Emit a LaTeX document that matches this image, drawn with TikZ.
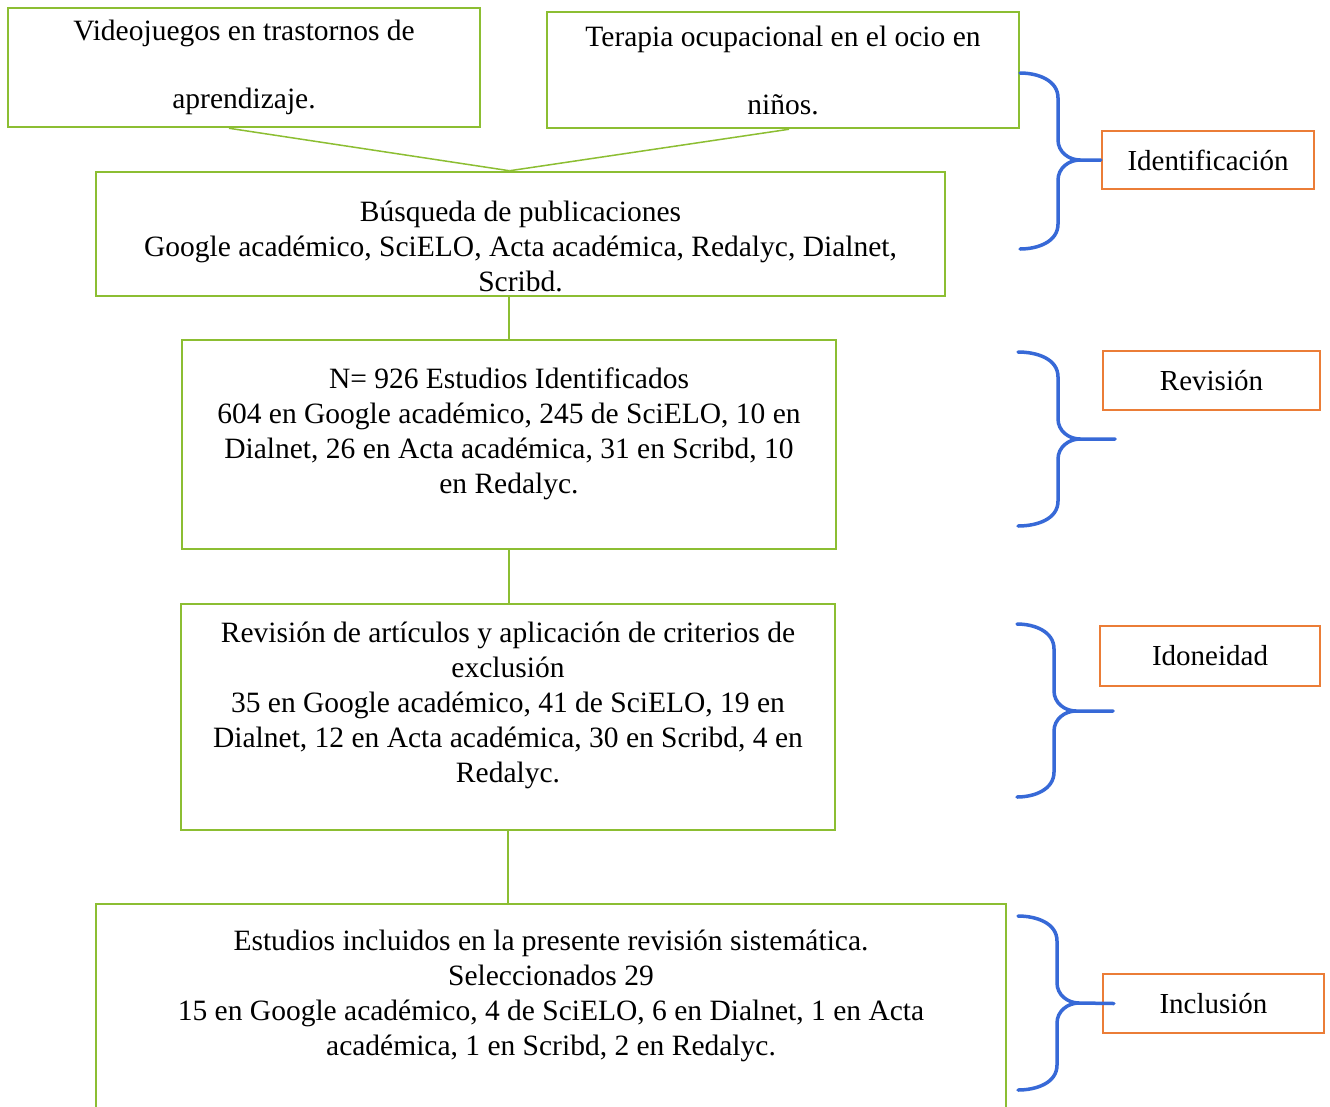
\documentclass[tikz,border=0pt]{standalone}
\usepackage{fontspec}
\setmainfont{Liberation Serif}
\definecolor{gr}{RGB}{140,190,50}
\definecolor{orl}{RGB}{235,125,55}
\definecolor{bl}{RGB}{55,105,215}
\begin{document}
\begin{tikzpicture}[x=1pt,y=-1pt,
 gbox/.style={draw=gr, line width=2.5pt, inner sep=0pt},
 obox/.style={draw=orl, line width=2.2pt, inner sep=0pt, font=\fontsize{29}{35}\selectfont},
 txt/.style={align=center, font=\fontsize{29.5}{35}\selectfont, inner sep=0pt, text=black},
 conn/.style={draw=gr, line width=2pt},
 thinconn/.style={draw=gr, line width=1.5pt},
 brace/.style={draw=bl, line width=3.5pt, line cap=round, line join=round}]
\useasboundingbox (0,0) rectangle (1330,1106);
\clip (0,0) rectangle (1330,1106);
\fill[white] (0,0) rectangle (1330,1106);

% green boxes
\node[gbox, minimum width=472, minimum height=119] (a) at (244,67.5) {};
\node[txt] (at) at (244,67) {Videojuegos en trastornos de\\[33pt]aprendizaje.};
\node[gbox, minimum width=472, minimum height=116] (b) at (783,70) {};
\node[txt] (bt) at (783,70) {Terapia ocupacional en el ocio en\\[33pt]niños.};
\node[gbox, minimum width=849, minimum height=124] (c) at (520.5,234) {};
\node[txt] (ct) at (520.5,246) {Búsqueda de publicaciones\\Google académico, SciELO, Acta académica, Redalyc, Dialnet,\\Scribd.};
\node[gbox, minimum width=654, minimum height=209] (d) at (509,444.5) {};
\node[txt] (dt) at (509,434) {N= 926 Estudios Identificados\\604 en Google académico, 245 de SciELO, 10 en\\Dialnet, 26 en Acta académica, 31 en Scribd, 10\\en Redalyc.};
\node[gbox, minimum width=654, minimum height=226] (e) at (508,717) {};
\node[txt] (et) at (508,705) {Revisión de artículos y aplicación de criterios de\\exclusión\\35 en Google académico, 41 de SciELO, 19 en\\Dialnet, 12 en Acta académica, 30 en Scribd, 4 en\\Redalyc.};
\node[gbox, minimum width=910, minimum height=226] (f) at (551,1017) {};
\node[txt] (ft) at (551,996) {Estudios incluidos en la presente revisión sistemática.\\Seleccionados 29\\15 en Google académico, 4 de SciELO, 6 en Dialnet, 1 en Acta\\académica, 1 en Scribd, 2 en Redalyc.};

% connectors
\draw[thinconn] ([xshift=-15pt]a.south) -- ([xshift=-11pt]c.north);
\draw[thinconn] ([xshift=6pt]b.south) -- ([xshift=-11pt]c.north);
\draw[conn] (d.north |- c.south) -- (d.north);
\draw[conn] (d.south) -- (d.south |- e.north);
\draw[conn] (e.south) -- (e.south |- f.north);

% orange labels
\node[obox, minimum width=212, minimum height=58] (l1) at (1208,160) {Identificación};
\node[obox, minimum width=217, minimum height=59] (l2) at (1211.5,380.5) {Revisión};
\node[obox, minimum width=220, minimum height=60] (l3) at (1210,656) {Idoneidad};
\node[obox, minimum width=221, minimum height=59] (l4) at (1213.5,1003.5) {Inclusión};

% braces
\coordinate (t2) at (1115,439);
\coordinate (t3) at (1113,711);
\draw[brace] (1020,73) to[out=0,in=90] (1058,98) -- (1058,140) to[out=-90,in=180] (1080,160) -- (l1.west);
\draw[brace] (1080,160) to[out=180,in=90] (1058,180) -- (1058,224) to[out=-90,in=0] (1020,249);
\draw[brace] (1018,352) to[out=0,in=90] (1058,377) -- (1058,419) to[out=-90,in=180] (1080,439) -- (t2);
\draw[brace] (1080,439) to[out=180,in=90] (1058,459) -- (1058,501) to[out=-90,in=0] (1018,526);
\draw[brace] (1017,624) to[out=0,in=90] (1054,649) -- (1054,691) to[out=-90,in=180] (1076,711) -- (t3);
\draw[brace] (1076,711) to[out=180,in=90] (1054,731) -- (1054,772) to[out=-90,in=0] (1017,797);
\draw[brace] (1018,916) to[out=0,in=90] (1057,941) -- (1057,983) to[out=-90,in=180] (1079,1003) -- ([xshift=12pt]l4.west);
\draw[brace] (1079,1003) to[out=180,in=90] (1057,1023) -- (1057,1065) to[out=-90,in=0] (1018,1090);
\end{tikzpicture}
\end{document}
